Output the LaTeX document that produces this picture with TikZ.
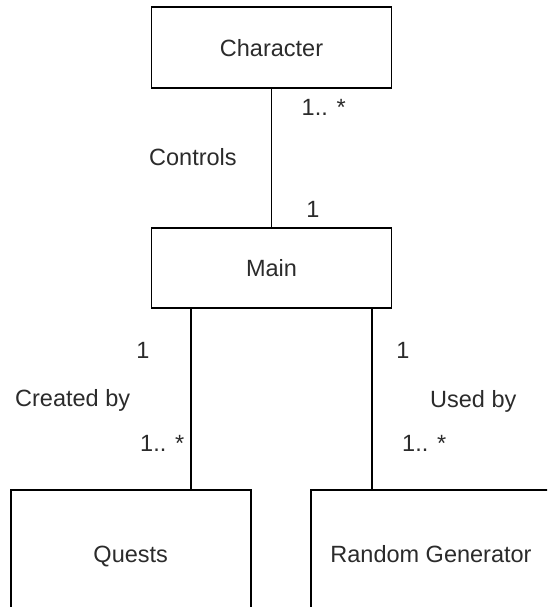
\documentclass[tikz,border=0pt]{standalone}
\usepackage{fontspec}
\setmainfont{Liberation Sans}
\usetikzlibrary{positioning}
\definecolor{ink}{HTML}{2B2B2B}
\tikzset{
  classbox/.style={draw=black, line width=1.6pt, rectangle, minimum width=240pt,
    text=ink, text depth=0pt, font=\fontsize{23.5}{28}\selectfont, inner sep=0pt},
  assoc/.style={draw=black, line width=1.6pt},
  lbl/.style={text=ink, font=\fontsize{23.5}{28}\selectfont, inner sep=0pt}
}
\begin{document}
\begin{tikzpicture}[x=1pt, y=-1pt]
  \useasboundingbox (0,0) rectangle (547,607);
  \clip (0,0) rectangle (547,607);
  \fill[white] (0,0) rectangle (547,607);

  % classes
  \node[classbox, minimum height=81pt] (character) at (271.5,47.5) {Character};
  \node[classbox, minimum height=80pt] (main) at (271.5,268) {Main};
  \node[classbox, minimum height=128pt] (quests) at (130.7,554) {Quests};
  \node[classbox, minimum height=128pt] (rng) at (431,554) {Random Generator};

  % associations
  \draw[assoc] (character.south) -- (main.north);
  \draw[assoc] ([xshift=-80.5pt]main.south) -- ([xshift=-80.5pt]main.south |- quests.north);
  \draw[assoc] ([xshift=100.5pt]main.south) -- ([xshift=100.5pt]main.south |- rng.north);

  % association labels and multiplicities
  \node[lbl, anchor=base west] (m1) at (301.5,116) {1.. *};
  \node[lbl, anchor=base] (m2) at (313,217) {1};
  \node[lbl, anchor=base west] (controls) at (149,165) {Controls};

  \node[lbl, anchor=base] (m3) at (143,358) {1};
  \node[lbl, anchor=base west] (created) at (15,406) {Created by};
  \node[lbl, anchor=base west] (m4) at (140,451) {1.. *};

  \node[lbl, anchor=base] (m5) at (403,358) {1};
  \node[lbl, anchor=base west] (used) at (430,407) {Used by};
  \node[lbl, anchor=base west] (m6) at (402,451) {1.. *};
\end{tikzpicture}
\end{document}
